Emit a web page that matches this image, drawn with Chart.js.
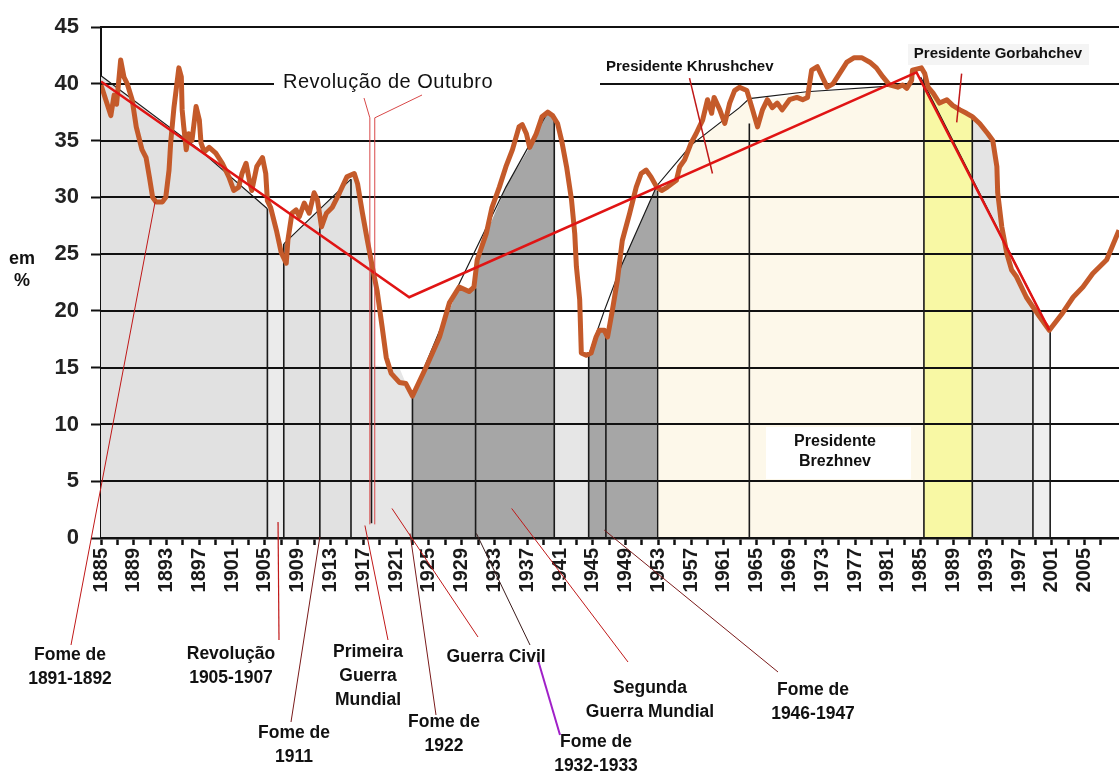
<!DOCTYPE html>
<html>
<head>
<meta charset="utf-8">
<script src="https://cdn.jsdelivr.net/npm/chart.js@4.4.1/dist/chart.umd.min.js"></script>
<style>html,body{margin:0;padding:0;background:#fff}canvas{display:block}</style>
</head>
<body>
<canvas id="c" width="1119" height="775"></canvas>
<script>
// traced share curve (year, %)
const curveYears = [1885,1886.2,1886.6,1886.9,1887.4,1887.8,1888.2,1888.8,1889.3,1890,
  1890.5,1890.9,1891.3,1891.7,1892.5,1892.9,1893.3,1893.5,1893.9,1894.5,
  1894.8,1894.9,1895.1,1895.4,1895.7,1896.1,1896.6,1897,1897.2,1897.6,
  1898.2,1899,1899.8,1900.6,1901.2,1901.8,1902.2,1902.7,1903.1,1903.4,
  1904,1904.7,1905.1,1905.3,1905.7,1906.4,1907,1907.6,1907.8,1908.3,
  1908.8,1909.2,1909.8,1910.4,1911,1911.4,1911.9,1912.5,1913.2,1914.1,
  1915,1915.9,1916.3,1916.9,1917.5,1918.1,1918.7,1919.3,1919.8,1920.4,
  1921.4,1922.2,1923,1924.7,1926.3,1927.5,1928.7,1929.9,1930.5,1930.9,
  1932,1932.7,1933.6,1934.4,1935.2,1936,1936.4,1936.9,1937.3,1938.1,
  1938.8,1939.5,1940.1,1940.7,1941.2,1941.8,1942.4,1942.8,1943,1943.4,
  1943.6,1944.2,1944.8,1945.4,1945.8,1946.4,1946.8,1947.4,1948,1948.6,
  1949.5,1950.3,1950.9,1951.5,1952.1,1952.8,1953.4,1954.1,1955.2,1955.6,
  1956.2,1957,1957.6,1958,1958.4,1959,1959.5,1959.8,1960.5,1961.1,
  1961.7,1962.3,1962.9,1963.8,1964.5,1965.1,1965.7,1966.3,1966.9,1967.5,
  1968.1,1969,1969.9,1970.6,1971.2,1971.7,1972.4,1973,1973.6,1974.3,
  1975.1,1976,1976.9,1977.8,1978.8,1979.6,1980.4,1981.2,1982.2,1982.8,
  1983.3,1983.9,1984,1985.1,1985.5,1985.9,1986.5,1987.3,1988.2,1988.9,
  1989.8,1990.6,1991.3,1992.2,1993.2,1993.8,1994.3,1994.4,1994.9,1995.5,
  1996.1,1996.7,1997.9,1999.5,2000.7,2002.3,2003.6,2004.8,2006,2007.7,
  2009.2];
const curveShare = [39.9,37.2,39.0,38.2,42.1,40.6,40.0,38.6,36.2,34.2,
  33.5,31.8,30.0,29.6,29.6,30.0,32.4,34.8,37.9,41.4,
  40.6,37.7,36.2,34.2,35.6,35.0,38.0,36.8,34.8,34.0,
  34.4,33.9,33.0,31.8,30.6,30.9,32.1,33.0,31.5,30.6,
  32.7,33.5,32.1,29.7,29.1,27.1,25.1,24.2,26.2,28.6,
  28.9,28.3,29.5,28.6,30.4,29.8,27.4,28.6,29.1,30.4,
  31.8,32.1,31.2,28.6,26.2,23.9,21.7,18.6,15.9,14.5,
  13.7,13.6,12.5,15.1,17.7,20.7,22.1,21.7,22.1,24.5,
  26.8,29.1,30.9,32.7,34.2,36.2,36.4,35.6,34.4,35.6,
  37.1,37.5,37.2,36.5,35.0,32.7,29.8,26.8,23.9,21.0,
  16.3,16.1,16.3,17.7,18.3,18.3,17.7,20.1,22.7,26.2,
  28.6,30.9,32.1,32.4,31.8,30.9,30.6,30.9,31.5,32.7,
  33.3,34.8,35.6,36.2,36.8,38.6,37.4,38.8,37.7,36.5,
  38.3,39.4,39.7,39.4,37.7,36.2,37.7,38.6,37.9,38.3,
  37.7,38.6,38.8,38.6,38.8,41.2,41.5,40.6,39.7,40.0,
  40.9,41.9,42.3,42.3,41.9,41.4,40.6,39.9,39.7,39.9,
  39.6,40.3,41.2,41.4,40.9,39.7,39.2,38.3,38.6,38.1,
  37.7,37.4,37.1,36.5,35.6,35.0,32.7,30.4,27.4,25.1,
  23.6,23.0,21.2,19.5,18.3,19.8,21.2,22.1,23.3,24.5,
  27.1];

// straight red trend
const redTrend = [[1885,40.2],[1922.6,21.2],[1984.5,41.0],[2000.7,18.3]];

// thin black trend segments
const trendEarly = [[1885,40.7],[1897,34.2],[1905.3,29.0]];
const trendPrewar = [[1907.3,25.9],[1915.5,31.6]];
const trendInterwar = [[1923,12.5],[1928.7,22.4],[1934.4,30.9],[1939.5,37.5]];
const trendPostwar = [[1944.5,16.1],[1946.4,20.0],[1948.5,24.0],[1952.8,31.0],[1957,34.6],[1962.9,37.9],[1964.1,38.7],[1971.1,39.3],[1981.2,39.8],[1984.9,40.0]];
const trendFall = [[1985.0,40.6],[2000.7,18.3]];

// shaded periods (top edge of each band)
const bandTsarist = [[1885,40.7],[1897,34.2],[1905.3,29.0]];
const bandRevolution = [[1905.3,29.0],[1905.7,29.1],[1906.4,27.1],[1907.0,25.1],[1907.3,24.6]];
const bandPrewar = [[1907.3,25.9],[1915.5,31.6]];
const bandWar1 = [[1915.5,31.6],[1915.9,32.1],[1916.3,31.2],[1916.9,28.6],[1917.5,26.2],[1918.1,23.9],[1918.4,15.2],[1921.4,15.0],[1922.2,13.6],[1923,12.5]];
const bandInterwar = [[1923,12.5],[1928.7,22.1],[1929.9,21.7],[1930.5,22.1],[1930.9,24.5],[1932,26.8],[1934.4,30.9],[1937.3,34.4],[1939.5,37.5],[1940.3,37.0]];
const bandWar2 = [[1940.3,15.0],[1944.5,15.0]];
const bandRecovery = [[1944.5,16.1],[1944.8,16.3],[1945.4,17.7],[1945.8,18.3],[1946.4,18.3],[1946.8,17.7],[1947.4,20.1],[1948.0,22.7],[1948.5,24.0],[1952.8,31.0]];
const bandKhrushchevBrezhnev = [[1952.8,30.6],[1953.4,30.6],[1954.1,30.9],[1955.2,31.5],[1955.6,32.7],[1956.2,33.3],[1957,34.6],[1960.5,36.6],[1962.9,37.9],[1964.1,38.6],[1964.5,37.7],[1965.1,36.2],[1965.7,37.7],[1966.3,38.6],[1971,39.2],[1981,39.7],[1985.4,40.3]];
const bandGorbachev = [[1985.4,40.9],[1985.9,39.7],[1986.5,39.2],[1987.3,38.3],[1988.2,38.6],[1988.9,38.1],[1989.8,37.7],[1990.6,37.4],[1991.3,37.1]];
const bandNineties = [[1991.3,37.1],[1992.2,36.5],[1993.2,35.6],[1993.8,35.0],[1994.3,32.7],[1994.4,30.4],[1994.9,27.4],[1995.5,25.1],[1996.1,23.6],[1996.7,23.0],[1997.9,21.2],[1998.7,20.3]];
const bandLate = [[1998.7,20.3],[1999.5,19.5],[2000.7,18.3]];

// vertical period dividers: [year, from, to]
const dividers = [[1905.3,0,29.0],[1907.3,0,25.9],[1911.7,0,27.6],[1915.5,0,31.6],[1918.0,1.3,23.9],
  [1923.0,0,12.5],[1930.7,0,22.0],[1940.3,0,37.0],[1944.5,0,16.1],[1946.6,0,17.7],[1952.9,0,30.6],
  [1964.1,0,36.5],[1985.4,0,40.8],[1991.3,0,37.1],[1998.7,0,20.3],[2000.8,0,18.3]];

const yTicks = [0,5,10,15,20,25,30,35,40,45];
const labelYears = [1885,1889,1893,1897,1901,1905,1909,1913,1917,1921,1925,1929,1933,1937,1941,1945,
  1949,1953,1957,1961,1965,1969,1973,1977,1981,1985,1989,1993,1997,2001,2005];
const minorYears = [1887,1891,1895,1899,1903,1907,1911,1915,1919,1923,1927,1931,1935,1939,1943,1947,
  1951,1955,1959,1963,1967,1971,1975,1979,1983,1987,1991,1995,1999,2003,2007];

const FONT = "'Liberation Sans', Arial, Helvetica, sans-serif";
const pts = pairs => pairs.map(([x, y]) => ({x, y}));
const joinSegs = segs => segs.flatMap((s, i) => (i ? [{x: s[0][0], y: null}] : []).concat(pts(s)));
const fillSet = (pairs, color) => ({data: pts(pairs), fill: 'origin', backgroundColor: color, borderWidth: 0, pointRadius: 0, order: 10});

let gridDone = false;
const gridUnder = {
  id: 'gridUnder',
  beforeDatasetsDraw(){ gridDone = false; },
  beforeDatasetDraw(chart, args){
    if (gridDone || chart.data.datasets[args.index].order >= 10) return;
    gridDone = true;
    const {ctx, chartArea: {left, right}, scales: {y}} = chart;
    ctx.save(); ctx.strokeStyle = '#111'; ctx.lineWidth = 2;
    yTicks.forEach(v => { const py = Math.round(y.getPixelForValue(v)); ctx.beginPath(); ctx.moveTo(left, py); ctx.lineTo(right, py); ctx.stroke(); });
    ctx.restore();
  }
};

const notes = {
  id: 'notes',
  afterDatasetsDraw(chart){
    const {ctx, scales: {x, y}} = chart;
    const P = (yr, v) => [x.getPixelForValue(yr), y.getPixelForValue(v)];
    const line = (list, color, w) => { ctx.strokeStyle = color; ctx.lineWidth = w; ctx.beginPath(); list.forEach((p, i) => i ? ctx.lineTo(p[0], p[1]) : ctx.moveTo(p[0], p[1])); ctx.stroke(); };
    const text = (lines, cx, cy, font, gap) => { ctx.font = font; ctx.fillStyle = '#111'; ctx.textAlign = 'center'; ctx.textBaseline = 'middle'; lines.forEach((t, i) => ctx.fillText(t, cx, cy + i * gap)); };
    ctx.save();
    // boxes behind the top labels
    ctx.fillStyle = '#fff'; ctx.fillRect(274, 70, 326, 26);
    ctx.fillStyle = '#f4f4f4'; ctx.fillRect(908, 44, 181, 21);
    ctx.fillStyle = '#fff'; ctx.fillRect(766, 427, 145, 52);
    // pointer lines
    const red = '#c01818', dark = '#7a1a1a';
    line([P(1891.6, 29.6), [71, 645]], red, 1);
    line([P(1906.6, 1.4), [279, 640]], red, 1.2);
    line([P(1911.7, 0.1), [291, 722]], dark, 1);
    line([P(1917.2, 1.1), [388, 640]], red, 1);
    line([P(1922.7, 0.4), [436, 715]], dark, 1);
    line([P(1920.5, 2.6), [478, 637]], red, 1);
    line([P(1930.8, 0.4), [530, 645]], '#3a1a1a', 1);
    line([P(1935.1, 2.6), [628, 662]], red, 1);
    line([P(1946.4, 0.7), [778, 672]], dark, 1);
    line([[538, 660], [560, 735]], '#a020c8', 2);
    line([[364, 98], P(1917.8, 37.0), P(1917.8, 1.2)], '#d84848', 1);
    line([[422, 95], P(1918.4, 37.0), P(1918.4, 1.2)], '#d84848', 1);
    line([P(1956.8, 40.5), P(1959.6, 32.1)], red, 1.5);
    line([P(1990.0, 40.9), P(1989.4, 36.6)], red, 1.5);
    // top labels
    ctx.letterSpacing = '0.5px';
    text(['Revolução de Outubro'], 388, 82, `20px ${FONT}`, 0);
    ctx.letterSpacing = '0px';
    ctx.font = `bold 15px ${FONT}`; ctx.fillStyle = '#111'; ctx.textAlign = 'left'; ctx.textBaseline = 'middle';
    ctx.fillText('Presidente Khrushchev', 606, 67);
    text(['Presidente Gorbahchev'], 998, 54, `bold 15px ${FONT}`, 0);
    text(['Presidente', 'Brezhnev'], 835, 442, `bold 16px ${FONT}`, 20);
    // axis title
    text(['em', '%'], 22, 259, `bold 18px ${FONT}`, 22);
    // event labels below the axis
    const f = `bold 17.5px ${FONT}`;
    text(['Fome de', '1891-1892'], 70, 655, f, 24);
    text(['Revolução', '1905-1907'], 231, 654, f, 24);
    text(['Fome de', '1911'], 294, 733, f, 24);
    text(['Primeira', 'Guerra', 'Mundial'], 368, 652, f, 24);
    text(['Fome de', '1922'], 444, 722, f, 24);
    text(['Guerra Civil'], 496, 657, f, 24);
    text(['Fome de', '1932-1933'], 596, 742, f, 24);
    text(['Segunda', 'Guerra Mundial'], 650, 688, f, 24);
    text(['Fome de', '1946-1947'], 813, 690, f, 24);
    ctx.restore();
  }
};

new Chart(document.getElementById('c'), {
  type: 'line',
  data: {
    datasets: [
      fillSet(bandTsarist, '#e1e1e1'),
      fillSet(bandRevolution, '#ebebeb'),
      fillSet(bandPrewar, '#e1e1e1'),
      fillSet(bandWar1, '#e6e6e6'),
      fillSet(bandInterwar, '#a6a6a6'),
      fillSet(bandWar2, '#e6e6e6'),
      fillSet(bandRecovery, '#a6a6a6'),
      fillSet(bandKhrushchevBrezhnev, '#fdf8ea'),
      fillSet(bandGorbachev, '#f8f8a4'),
      fillSet(bandNineties, '#e4e4e4'),
      fillSet(bandLate, '#eeeeee'),
      {data: dividers.flatMap(([yr, a, b]) => [{x: yr, y: a}, {x: yr, y: b}, {x: yr, y: null}]),
       borderColor: '#1a1a1a', borderWidth: 1.6, pointRadius: 0, spanGaps: false, fill: false, order: 5},
      {data: joinSegs([trendEarly, trendPrewar, trendInterwar, trendPostwar, trendFall]),
       borderColor: '#1a1a1a', borderWidth: 1.2, pointRadius: 0, spanGaps: false, fill: false, order: 4},
      {data: curveYears.map((yr, i) => ({x: yr, y: curveShare[i]})),
       borderColor: '#c45a2a', borderWidth: 5, pointRadius: 0, fill: false, borderJoinStyle: 'round', order: 1},
      {data: pts(redTrend), borderColor: '#e01414', borderWidth: 2.5, pointRadius: 0, fill: false, order: 0}
    ]
  },
  options: {
    responsive: false, animation: false, events: [],
    layout: {padding: {top: 27, right: 0, left: 0, bottom: 0}},
    plugins: {legend: {display: false}, tooltip: {enabled: false}},
    scales: {
      x: {
        type: 'linear', min: 1885, max: 2009.2,
        afterBuildTicks: s => { s.ticks = labelYears.concat(minorYears).sort((a, b) => a - b).map(v => ({value: v})); },
        afterFit: s => { s.height = 237; s.paddingLeft = 0; s.paddingRight = 0; },
        ticks: {autoSkip: false, minRotation: 90, maxRotation: 90, padding: 3, color: '#1a1a1a',
          font: {family: FONT, size: 20, weight: 'bold'},
          callback: v => labelYears.includes(v) ? String(v) : ''},
        grid: {drawOnChartArea: false, drawTicks: true, tickLength: 7, tickWidth: 2.5, tickColor: '#111'},
        border: {display: true, color: '#111', width: 2.5}
      },
      y: {
        min: 0, max: 45,
        afterBuildTicks: s => { s.ticks = yTicks.map(v => ({value: v})); },
        afterFit: s => { s.width = 101; s.paddingTop = 0; s.paddingBottom = 0; },
        ticks: {padding: 12, color: '#222', font: {family: FONT, size: 22, weight: 'bold'}},
        grid: {drawOnChartArea: false, drawTicks: true, tickLength: 10, tickWidth: 2, tickColor: '#111'},
        border: {display: true, color: '#111', width: 2}
      }
    }
  },
  plugins: [gridUnder, notes]
});
</script>
</body>
</html>
